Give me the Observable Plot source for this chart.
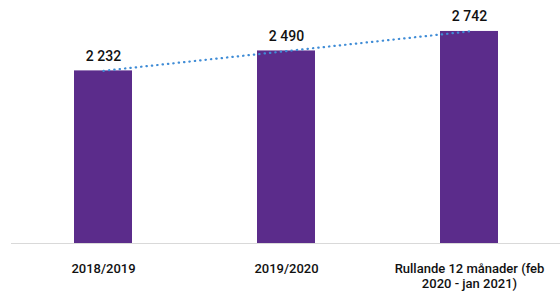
<!DOCTYPE html>
<html>
<head>
<meta charset="utf-8">
<script src="https://cdn.jsdelivr.net/npm/d3@7"></script>
<script src="https://cdn.jsdelivr.net/npm/@observablehq/plot@0.6"></script>
<style>
  html, body { margin: 0; padding: 0; background: #fff; }
  svg { display: block; }
</style>
</head>
<body>
<div id="chart"></div>
<script>
const categories = ["2018/2019", "2019/2020", "Rullande 12 månader (feb 2020 - jan 2021)"];
const tickLabels = ["2018/2019", "2019/2020", "Rullande 12 månader (feb\n2020 - jan 2021)"];
const values = [2232, 2490, 2742];
const valueLabels = ["2 232", "2 490", "2 742"];

// linear trend line (least squares) through the bar values
const xs = values.map((_, i) => i + 1);
const mx = d3.mean(xs), my = d3.mean(values);
const slope = d3.sum(xs.map((x, i) => (x - mx) * (values[i] - my))) / d3.sum(xs.map(x => (x - mx) ** 2));
const trend = xs.map(x => my + slope * (x - mx));

const data = categories.map((c, i) => ({
  cat: c, value: values[i], label: valueLabels[i], tick: tickLabels[i], trend: trend[i]
}));

const chart = Plot.plot({
  width: 560,
  height: 291,
  marginLeft: 11,
  marginRight: 0,
  marginTop: 11,
  marginBottom: 48,
  style: { fontFamily: "Roboto, 'DejaVu Sans', sans-serif", background: "#fff" },
  x: { domain: categories, paddingInner: 0.684, paddingOuter: 0.342, axis: null },
  y: { domain: [0, 3000], axis: null },
  marks: [
    Plot.barY(data, { x: "cat", y: "value", fill: "#5b2c8b" }),
    Plot.ruleY([0], { stroke: "#d9d9d9", strokeWidth: 1 }),
    Plot.line(data, { x: "cat", y: "trend", stroke: "#3f8cd6", strokeWidth: 2.2,
      strokeDasharray: "0.4 5", strokeLinecap: "round" }),
    Plot.text(data, { x: "cat", y: "value", text: "label", dy: -10, lineAnchor: "bottom",
      fontSize: 14, fontWeight: 500, fill: "#111" }),
    Plot.text(data, { x: "cat", text: "tick", frameAnchor: "bottom", dy: 18, lineAnchor: "top",
      lineHeight: 1.2, fontSize: 13, fontWeight: 500, fill: "#111" })
  ]
});
document.getElementById("chart").appendChild(chart);
</script>
</body>
</html>
